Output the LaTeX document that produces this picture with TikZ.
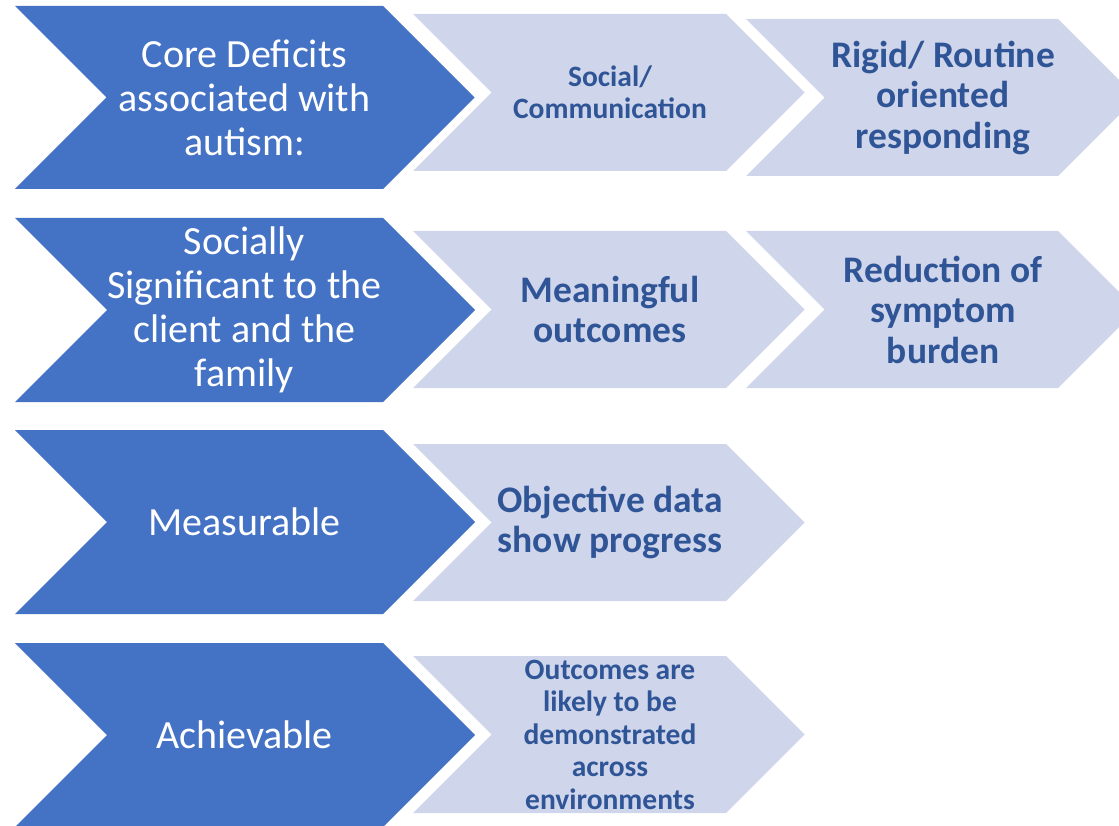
\documentclass[tikz,border=0pt]{standalone}
\usepackage{fontspec}
\setmainfont{Carlito}
\definecolor{darkblue}{HTML}{4472C4}
\definecolor{paleblue}{HTML}{CFD5EA}
\definecolor{textblue}{HTML}{2F5597}
% chevron: [style] left, top, right (start of point), bottom
\newcommand\chevron[5][]{%
  \pgfmathsetmacro\chevd{(#5-#3)/2}%
  \pgfmathsetmacro\chevm{(#5+#3)/2}%
  \fill[#1] (#2,#3) -- (#4,#3) -- (#4+\chevd,\chevm) -- (#4,#5)
    -- (#2,#5) -- (#2+\chevd,\chevm) -- cycle;}
\begin{document}
\begin{tikzpicture}
[x=1pt,y=-1pt,
 dark/.style={fill=darkblue},
 light/.style={fill=paleblue},
 every node/.style={align=center,inner sep=0pt},
 dtext/.style={text=white,font=\fontsize{40}{44}\selectfont},
 ltext/.style={text=textblue,font=\bfseries\fontsize{37.5}{40.5}\selectfont},
 stext/.style={text=textblue,font=\bfseries\fontsize{29.5}{32.5}\selectfont}]
\clip (0,0) rectangle (1119,826);
% row 1
\chevron[dark]{15}{6}{383}{189}
\chevron[light]{413}{14}{726}{171}
\chevron[light]{746}{19}{1058}{176}
\node [dtext] (core) at (244.5,97.5) {Core Deficits\\associated with\\autism:};
\node [stext] (social) at (610,92.5) {Social/\\Communication};
\node [ltext] (rigid) at (943,97.5) {Rigid/ Routine\\oriented\\responding};
% row 2
\chevron[dark]{15}{218}{383}{402}
\chevron[light]{413}{231}{726}{388}
\chevron[light]{746}{231}{1058}{388}
\node [dtext] (signif) at (244.5,310) {Socially\\Significant to the\\client and the\\family};
\node [ltext] (meaning) at (610,309.5) {Meaningful\\outcomes};
\node [ltext] (reduct) at (943,309.5) {Reduction of\\symptom\\burden};
% row 3
\chevron[dark]{15}{430}{383}{614}
\chevron[light]{413}{444}{726}{601}
\node [dtext] (measure) at (244.5,522) {Measurable};
\node [ltext] (objective) at (610,522.5) {Objective data\\show progress};
% row 4
\chevron[dark]{15}{643}{383}{827}
\chevron[light]{413}{656}{726}{813}
\node [dtext] (achieve) at (244.5,735) {Achievable};
\node [stext] (outcomes) at (610,734.5) {Outcomes are\\likely to be\\demonstrated\\across\\environments};
\end{tikzpicture}
\end{document}
